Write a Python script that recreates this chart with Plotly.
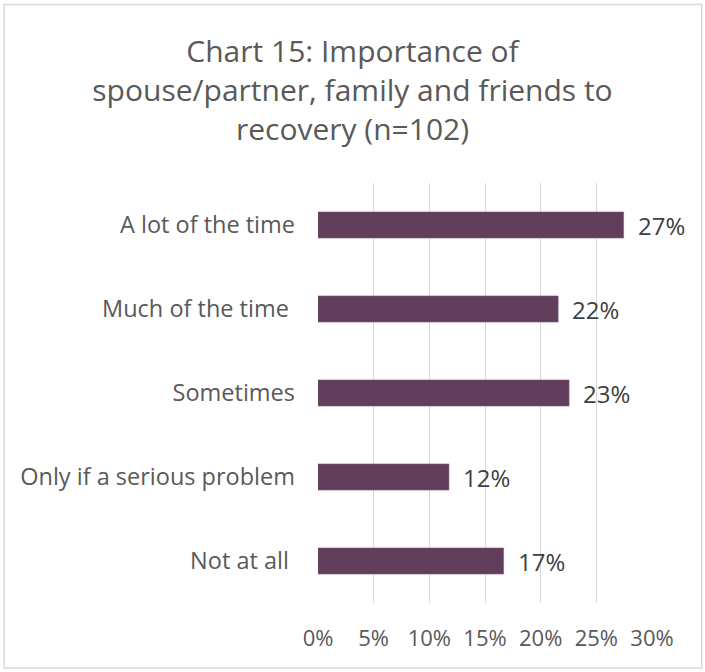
import plotly.graph_objects as go

categories = ["A lot of the time", "Much of the time ", "Sometimes", "Only if a serious problem", "Not at all "]
values = [27.45, 21.57, 22.55, 11.76, 16.67]
labels = ["27%", "22%", "23%", "12%", "17%"]
tick_vals = [0, 5, 10, 15, 20, 25, 30]
tick_text = ["0%", "5%", "10%", "15%", "20%", "25%", "30%"]

FONT = "Open Sans"
fig = go.Figure()
fig.add_trace(go.Bar(
    y=categories, x=values, orientation="h",
    marker=dict(color="#633E5C", line=dict(color="#7A5A74", width=0.6)),
    hoverinfo="skip",
))

for c, v, t in zip(categories, values, labels):
    fig.add_annotation(x=v, y=c, text=t, showarrow=False, xanchor="left",
                       xshift=12, font=dict(family=FONT, size=24, color="#404040"))

W, H = 705, 672
l, r, t, b = 317.5, 53.3, 183, 69
pw, ph = W - l - r, H - t - b

def px(xp):
    return (xp - l) / pw

def py(yp):
    return (H - b - yp) / ph

fig.add_shape(type="rect", xref="paper", yref="paper",
              x0=px(3.5), x1=px(701.5), y0=py(668), y1=py(4.5),
              line=dict(color="#D9D9D9", width=1.5), fillcolor="rgba(0,0,0,0)", layer="below")

fig.update_layout(
    width=W, height=H,
    margin=dict(l=l, r=r, t=t, b=b, autoexpand=False),
    paper_bgcolor="white", plot_bgcolor="white",
    bargap=0.69,
    showlegend=False,
    title=dict(
        text="Chart 15: Importance of<br>spouse/partner, family and friends to<br>recovery (n=102)",
        x=0.5, xref="container", xanchor="center",
        y=1 - 62 / H, yref="container", yanchor="middle",
        font=dict(family=FONT, size=30, color="#595959"),
    ),
    xaxis=dict(range=[0, 30], tickvals=tick_vals, ticktext=tick_text,
               showgrid=True, gridcolor="#D9D9D9", gridwidth=1.3,
               zeroline=False, showline=False, ticks="", ticklabelstandoff=20,
               tickfont=dict(family=FONT, size=22, color="#595959"), fixedrange=True),
    yaxis=dict(autorange="reversed", showgrid=False, zeroline=False, showline=False,
               ticks="", ticklabelstandoff=22,
               tickfont=dict(family=FONT, size=23.5, color="#595959"), fixedrange=True),
)

fig.write_html("out.html", config={"displayModeBar": False},
               post_script="document.body.style.margin='0';")
